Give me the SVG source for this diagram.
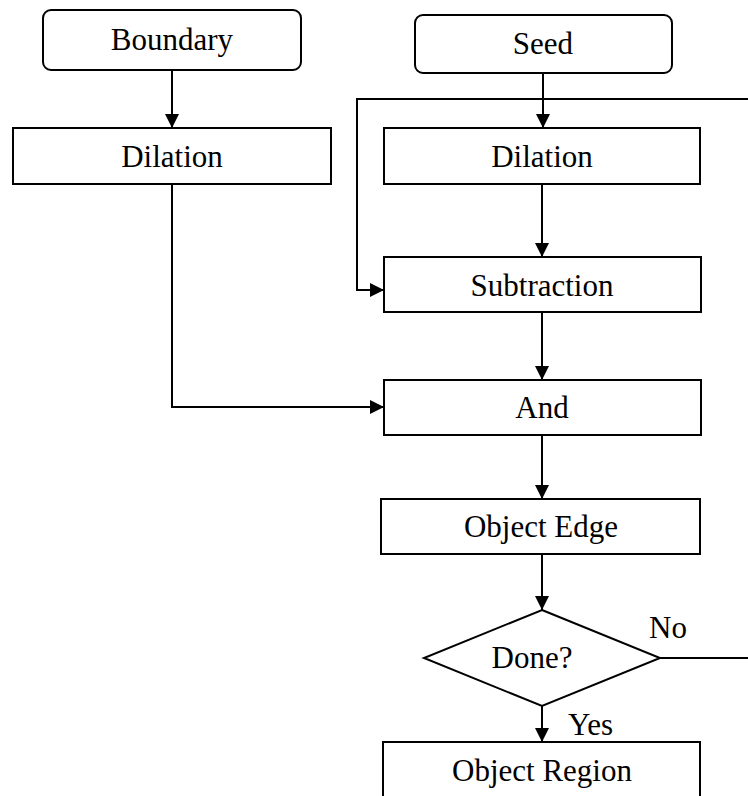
<svg xmlns="http://www.w3.org/2000/svg" width="748" height="796" viewBox="0 0 748 796">
  <style>
    .box { fill: #ffffff; stroke: #000000; stroke-width: 2; }
    .lbl { font-family: 'Times New Roman', 'Liberation Serif', Tinos, serif; font-size: 31px; fill: #000000; }
    .mid { text-anchor: middle; }
    .wire { fill: none; stroke: #000000; stroke-width: 2; }
  </style>
  <defs>
    <marker id="arrow" markerUnits="userSpaceOnUse" markerWidth="14" markerHeight="14" refX="14" refY="7" orient="auto">
      <path d="M0,0 L14,7 L0,14 Z" fill="#000000"/>
    </marker>
  </defs>

  <rect width="748" height="796" fill="#ffffff"/>

  <!-- connectors -->
  <g id="connectors">
    <line class="wire" x1="172" y1="71" x2="172" y2="128" marker-end="url(#arrow)"/>
    <line class="wire" x1="543" y1="74" x2="543" y2="128" marker-end="url(#arrow)"/>
    <polyline class="wire" points="748,99 357,99 357,290 384,290" marker-end="url(#arrow)"/>
    <line class="wire" x1="542" y1="184" x2="542" y2="257" marker-end="url(#arrow)"/>
    <line class="wire" x1="542" y1="312" x2="542" y2="380" marker-end="url(#arrow)"/>
    <polyline class="wire" points="172,184 172,407 384,407" marker-end="url(#arrow)"/>
    <line class="wire" x1="542" y1="435" x2="542" y2="499" marker-end="url(#arrow)"/>
    <line class="wire" x1="542" y1="554" x2="542" y2="610" marker-end="url(#arrow)"/>
    <line class="wire" x1="660" y1="658" x2="748" y2="658"/>
    <line class="wire" x1="542" y1="706" x2="542" y2="742" marker-end="url(#arrow)"/>
    <text class="lbl" x="649" y="638">No</text>
    <text class="lbl" x="568" y="735">Yes</text>
  </g>

  <!-- nodes -->
  <g id="boundary">
    <rect class="box" x="43" y="10" width="258" height="60" rx="8"/>
    <text class="lbl mid" x="172" y="50">Boundary</text>
  </g>
  <g id="seed">
    <rect class="box" x="415" y="15" width="257" height="58" rx="8"/>
    <text class="lbl mid" x="543" y="54">Seed</text>
  </g>
  <g id="dilation-left">
    <rect class="box" x="13" y="128" width="318" height="56"/>
    <text class="lbl mid" x="172" y="167">Dilation</text>
  </g>
  <g id="dilation-right">
    <rect class="box" x="384" y="128" width="316" height="56"/>
    <text class="lbl mid" x="542" y="167">Dilation</text>
  </g>
  <g id="subtraction">
    <rect class="box" x="384" y="257" width="317" height="55"/>
    <text class="lbl mid" x="542" y="296">Subtraction</text>
  </g>
  <g id="and">
    <rect class="box" x="384" y="380" width="317" height="55"/>
    <text class="lbl mid" x="542" y="418">And</text>
  </g>
  <g id="object-edge">
    <rect class="box" x="381" y="499" width="319" height="55"/>
    <text class="lbl mid" x="541" y="537">Object Edge</text>
  </g>
  <g id="done">
    <polygon class="box" points="542,610 660,658 542,706 424,658"/>
    <text class="lbl mid" x="532" y="668">Done?</text>
  </g>
  <g id="object-region">
    <rect class="box" x="383" y="742" width="317" height="70"/>
    <text class="lbl mid" x="542" y="781">Object Region</text>
  </g>
</svg>
